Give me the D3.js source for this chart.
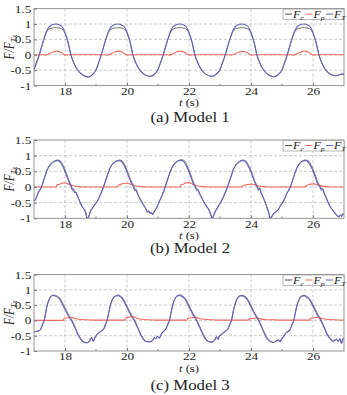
<!DOCTYPE html>
<html>
<head>
<meta charset="utf-8">
<script src="https://cdn.jsdelivr.net/npm/d3@7"></script>
<style>
  body { margin: 0; background: #fff; }
  svg { display: block; }
  text { font-family: "Liberation Serif", "Times New Roman", serif; fill: #222; }
</style>
</head>
<body>
<script>
// ---- Model 1 ----
const m1Time = [
  17.00,17.08,17.17,17.30,17.42,17.55,17.72,17.88,18.00,18.10,18.19,18.30,18.45,18.60,18.75,18.88,
  19.00,19.08,19.17,19.30,19.42,19.55,19.72,19.88,20.00,20.10,20.19,20.30,20.45,20.60,20.75,20.88,
  21.00,21.08,21.17,21.30,21.42,21.55,21.72,21.88,22.00,22.10,22.19,22.30,22.45,22.60,22.75,22.88,
  23.00,23.08,23.17,23.30,23.42,23.55,23.72,23.88,24.00,24.10,24.19,24.30,24.45,24.60,24.75,24.88,
  25.00,25.08,25.17,25.30,25.42,25.55,25.72,25.88,26.00,26.10,26.19,26.30,26.45,26.60,26.75,26.88,
  27.00];
const m1Total = [
  -0.47,-0.26,0.00,0.45,0.80,0.96,1.00,0.94,0.72,0.40,0.00,-0.30,-0.55,-0.67,-0.72,-0.65,
  -0.49,-0.27,0.00,0.45,0.80,0.96,1.00,0.94,0.73,0.41,0.00,-0.30,-0.54,-0.66,-0.70,-0.64,
  -0.48,-0.26,0.00,0.45,0.80,0.96,1.00,0.94,0.72,0.40,0.00,-0.30,-0.55,-0.66,-0.70,-0.63,
  -0.48,-0.26,0.00,0.45,0.80,0.96,1.00,0.94,0.72,0.40,0.00,-0.30,-0.55,-0.67,-0.71,-0.64,
  -0.49,-0.27,0.00,0.45,0.80,0.96,1.00,0.94,0.72,0.40,0.00,-0.30,-0.54,-0.65,-0.68,-0.64,
  -0.62];
const m1Cable = [
  -0.47,-0.26,0.00,0.44,0.76,0.86,0.88,0.85,0.70,0.40,0.00,-0.30,-0.55,-0.67,-0.72,-0.65,
  -0.49,-0.27,0.00,0.44,0.76,0.86,0.88,0.85,0.71,0.41,0.00,-0.30,-0.54,-0.66,-0.70,-0.64,
  -0.48,-0.26,0.00,0.44,0.76,0.86,0.88,0.85,0.70,0.40,0.00,-0.30,-0.55,-0.66,-0.70,-0.63,
  -0.48,-0.26,0.00,0.44,0.76,0.86,0.88,0.85,0.70,0.40,0.00,-0.30,-0.55,-0.67,-0.71,-0.64,
  -0.49,-0.27,0.00,0.44,0.76,0.86,0.88,0.85,0.70,0.40,0.00,-0.30,-0.54,-0.65,-0.68,-0.64,
  -0.62];
const m1Pull = [
  [17.00,0],[17.30,0],[17.38,-0.01],[17.48,0.03],[17.60,0.09],[17.72,0.12],[17.84,0.09],[17.95,0.02],[18.02,-0.01],[18.10,0],
  [19.30,0],[19.38,-0.01],[19.48,0.03],[19.60,0.09],[19.72,0.12],[19.84,0.09],[19.95,0.02],[20.02,-0.01],[20.10,0],
  [21.30,0],[21.38,-0.01],[21.48,0.03],[21.60,0.09],[21.72,0.12],[21.84,0.09],[21.95,0.02],[22.02,-0.01],[22.10,0],
  [23.30,0],[23.38,-0.01],[23.48,0.03],[23.60,0.08],[23.72,0.11],[23.84,0.09],[23.95,0.02],[24.02,-0.01],[24.10,0],
  [25.30,0],[25.38,-0.01],[25.48,0.03],[25.60,0.09],[25.72,0.12],[25.84,0.09],[25.95,0.02],[26.02,-0.01],[26.10,0],
  [27.00,0]];

// ---- Model 2 ----
const m2Time = [
  17.00,17.05,17.12,17.24,17.35,17.45,17.57,17.68,17.76,17.84,17.94,18.05,18.15,18.20,18.24,18.27,18.31,18.35,18.40,18.47,18.55,18.62,18.66,18.70,18.73,18.77,18.82,18.88,18.95,
  19.03,19.12,19.24,19.35,19.45,19.57,19.68,19.75,19.84,19.94,20.05,20.16,20.21,20.25,20.29,20.34,20.42,20.52,20.60,20.66,20.70,20.74,20.78,20.83,20.87,20.92,20.97,
  21.05,21.13,21.23,21.34,21.45,21.57,21.67,21.75,21.84,21.94,22.05,22.15,22.20,22.25,22.29,22.34,22.42,22.50,22.58,22.64,22.70,22.75,22.79,22.85,22.92,22.98,
  23.06,23.14,23.24,23.35,23.45,23.57,23.67,23.74,23.83,23.93,24.05,24.14,24.20,24.24,24.28,24.32,24.38,24.46,24.53,24.58,24.62,24.66,24.72,24.80,24.88,24.96,
  25.05,25.15,25.27,25.37,25.47,25.58,25.68,25.76,25.85,25.95,26.06,26.16,26.22,26.27,26.31,26.36,26.44,26.53,26.62,26.70,26.78,26.84,26.88,26.92,26.96,27.00];
const m2Total = [
  -0.45,-0.40,-0.22,0.00,0.33,0.60,0.76,0.83,0.84,0.80,0.63,0.36,0.10,0.00,-0.10,-0.08,-0.18,-0.17,-0.28,-0.45,-0.62,-0.72,-0.80,-0.96,-1.00,-0.94,-0.78,-0.68,-0.58,
  -0.48,-0.30,0.00,0.32,0.60,0.77,0.83,0.84,0.79,0.62,0.35,0.08,0.00,-0.12,-0.10,-0.22,-0.38,-0.55,-0.68,-0.80,-0.76,-0.84,-0.82,-0.88,-0.80,-0.72,-0.62,
  -0.45,-0.28,0.00,0.33,0.62,0.78,0.84,0.85,0.80,0.62,0.35,0.08,0.00,-0.12,-0.10,-0.22,-0.36,-0.52,-0.64,-0.72,-0.88,-1.00,-0.92,-0.78,-0.66,-0.56,
  -0.42,-0.25,0.00,0.32,0.60,0.77,0.83,0.84,0.79,0.62,0.34,0.10,0.00,-0.10,-0.06,-0.18,-0.30,-0.50,-0.70,-0.85,-1.00,-0.96,-0.86,-0.80,-0.72,-0.58,
  -0.45,-0.22,0.00,0.30,0.58,0.76,0.83,0.84,0.79,0.62,0.35,0.08,0.00,-0.10,-0.08,-0.20,-0.38,-0.58,-0.72,-0.82,-0.92,-0.95,-0.90,-0.94,-0.86,-0.88];
const m2Cable = [
  -0.45,-0.40,-0.22,0.00,0.33,0.60,0.76,0.84,0.86,0.84,0.69,0.42,0.16,0.06,-0.05,-0.05,-0.15,-0.16,-0.28,-0.45,-0.62,-0.72,-0.80,-0.96,-1.00,-0.94,-0.78,-0.68,-0.58,
  -0.48,-0.30,0.00,0.32,0.60,0.77,0.84,0.86,0.84,0.68,0.41,0.14,0.05,-0.07,-0.07,-0.20,-0.38,-0.55,-0.68,-0.80,-0.76,-0.84,-0.82,-0.88,-0.80,-0.72,-0.62,
  -0.45,-0.28,0.00,0.33,0.62,0.78,0.85,0.87,0.85,0.68,0.41,0.14,0.05,-0.07,-0.07,-0.20,-0.36,-0.52,-0.64,-0.72,-0.88,-1.00,-0.92,-0.78,-0.66,-0.56,
  -0.42,-0.25,0.00,0.32,0.60,0.77,0.84,0.86,0.84,0.68,0.40,0.15,0.05,-0.05,-0.04,-0.16,-0.30,-0.50,-0.70,-0.85,-1.00,-0.96,-0.86,-0.80,-0.72,-0.58,
  -0.45,-0.22,0.00,0.30,0.58,0.76,0.84,0.86,0.84,0.68,0.41,0.14,0.05,-0.05,-0.05,-0.18,-0.38,-0.58,-0.72,-0.82,-0.92,-0.95,-0.90,-0.94,-0.86,-0.88];
const m2Pull = [
  [17.00,0],[17.72,0],[17.74,0.07],[17.82,0.08],[17.88,0.12],[18.00,0.13],[18.08,0.10],[18.18,0.06],[18.30,0.03],[18.45,0.01],[18.60,0],
  [19.70,0],[19.72,0.06],[19.80,0.08],[19.86,0.11],[19.98,0.12],[20.08,0.10],[20.18,0.06],[20.30,0.03],[20.45,0.01],[20.60,0],
  [21.72,0],[21.74,0.07],[21.82,0.09],[21.88,0.13],[22.00,0.14],[22.08,0.11],[22.18,0.06],[22.30,0.03],[22.45,0.01],[22.60,0],
  [23.72,0],[23.74,0.05],[23.82,0.06],[23.88,0.08],[24.00,0.09],[24.08,0.08],[24.18,0.05],[24.30,0.02],[24.45,0.01],[24.60,0],
  [25.76,0],[25.78,0.05],[25.86,0.07],[25.92,0.09],[26.04,0.10],[26.12,0.08],[26.22,0.05],[26.34,0.02],[26.48,0.01],[26.62,0],
  [27.00,0]];

// ---- Model 3 ----
const m3Time = [
  17.00,17.08,17.16,17.22,17.28,17.33,17.39,17.45,17.52,17.60,17.68,17.76,17.84,17.92,18.01,18.10,18.21,18.31,18.41,18.51,18.61,18.71,18.79,18.86,18.91,18.96,
  19.02,19.10,19.18,19.25,19.31,19.36,19.42,19.48,19.55,19.63,19.71,19.79,19.87,19.95,20.04,20.13,20.23,20.33,20.43,20.53,20.63,20.73,20.82,20.88,20.93,20.98,
  21.04,21.12,21.20,21.26,21.32,21.37,21.43,21.49,21.56,21.64,21.72,21.80,21.88,21.96,22.05,22.14,22.24,22.34,22.44,22.54,22.64,22.74,22.83,22.89,22.94,22.98,
  23.03,23.11,23.19,23.26,23.32,23.37,23.43,23.49,23.56,23.64,23.72,23.80,23.88,23.96,24.05,24.14,24.24,24.34,24.44,24.54,24.64,24.74,24.83,24.89,24.94,24.98,
  25.04,25.12,25.20,25.27,25.33,25.38,25.44,25.50,25.57,25.65,25.73,25.81,25.89,25.97,26.06,26.15,26.25,26.35,26.45,26.55,26.65,26.75,26.82,26.87,26.92,26.96,27.00];
const m3Total = [
  -0.38,-0.36,-0.34,-0.28,-0.12,0.00,0.32,0.58,0.74,0.82,0.80,0.76,0.68,0.52,0.34,0.16,0.00,-0.22,-0.45,-0.62,-0.71,-0.73,-0.68,-0.56,-0.68,-0.58,
  -0.48,-0.40,-0.34,-0.28,-0.12,0.00,0.30,0.55,0.72,0.80,0.81,0.77,0.68,0.52,0.34,0.16,0.00,-0.22,-0.45,-0.62,-0.70,-0.70,-0.66,-0.56,-0.60,-0.52,
  -0.58,-0.42,-0.34,-0.26,-0.12,0.00,0.30,0.56,0.73,0.81,0.81,0.76,0.68,0.52,0.34,0.16,0.00,-0.22,-0.45,-0.62,-0.70,-0.71,-0.64,-0.54,-0.62,-0.50,
  -0.48,-0.40,-0.34,-0.27,-0.12,0.00,0.30,0.55,0.72,0.80,0.80,0.76,0.68,0.52,0.34,0.16,0.00,-0.22,-0.45,-0.62,-0.70,-0.72,-0.66,-0.64,-0.70,-0.62,
  -0.54,-0.42,-0.36,-0.28,-0.12,0.00,0.30,0.55,0.72,0.80,0.80,0.75,0.67,0.52,0.34,0.16,0.00,-0.22,-0.45,-0.60,-0.68,-0.62,-0.68,-0.60,-0.75,-0.62,-0.56];
const m3Cable = [
  -0.38,-0.36,-0.34,-0.28,-0.12,0.00,0.32,0.58,0.74,0.82,0.82,0.79,0.72,0.57,0.39,0.21,0.04,-0.18,-0.42,-0.60,-0.70,-0.73,-0.68,-0.56,-0.68,-0.58,
  -0.48,-0.40,-0.34,-0.28,-0.12,0.00,0.30,0.55,0.72,0.80,0.83,0.80,0.72,0.57,0.39,0.21,0.04,-0.18,-0.42,-0.60,-0.69,-0.70,-0.66,-0.56,-0.60,-0.52,
  -0.58,-0.42,-0.34,-0.26,-0.12,0.00,0.30,0.56,0.73,0.81,0.83,0.79,0.72,0.57,0.39,0.21,0.04,-0.18,-0.42,-0.60,-0.69,-0.71,-0.64,-0.54,-0.62,-0.50,
  -0.48,-0.40,-0.34,-0.27,-0.12,0.00,0.30,0.55,0.72,0.80,0.82,0.79,0.72,0.57,0.39,0.21,0.04,-0.18,-0.42,-0.60,-0.69,-0.72,-0.66,-0.64,-0.70,-0.62,
  -0.54,-0.42,-0.36,-0.28,-0.12,0.00,0.30,0.55,0.72,0.80,0.82,0.78,0.71,0.57,0.39,0.21,0.04,-0.18,-0.42,-0.58,-0.67,-0.62,-0.68,-0.60,-0.75,-0.62,-0.56];
const m3Pull = [
  [17.00,0],[17.94,0],[17.97,0.06],[18.03,0.08],[18.13,0.09],[18.23,0.10],[18.31,0.06],[18.46,0.04],[18.70,0.02],[18.95,0.01],
  [19.93,0.01],[19.96,0.08],[20.02,0.10],[20.12,0.11],[20.22,0.12],[20.32,0.07],[20.46,0.04],[20.70,0.02],[20.95,0.01],
  [21.93,0.01],[21.96,0.06],[22.02,0.08],[22.12,0.09],[22.24,0.10],[22.32,0.06],[22.46,0.04],[22.70,0.02],[22.95,0.01],
  [23.91,0.01],[23.94,0.04],[24.00,0.06],[24.10,0.07],[24.22,0.07],[24.30,0.05],[24.44,0.03],[24.70,0.02],[24.95,0.01],
  [25.89,0.01],[25.92,0.06],[25.98,0.08],[26.08,0.09],[26.20,0.10],[26.28,0.06],[26.42,0.04],[26.70,0.02],[27.00,0.01]];

const xTicks = [18, 20, 22, 24, 26];
const xMinor = [19, 21, 23, 25];
const yTicks = [-1, -0.5, 0, 0.5, 1, 1.5];
const yGrid = [-0.5, 0, 0.5, 1];
const captions = ['(a) Model 1', '(b) Model 2', '(c) Model 3'];
const legendSubs = ['c', 'p', 'T'];

const COL = { cable: '#505050', pull: '#ee6a5e', total: '#6262bd' };
const SERIF = '"Liberation Serif", "Times New Roman", serif';
const SX = 1.2; // the source figure is stretched sideways

const svg = d3.select('body').append('svg').attr('width', 347).attr('height', 395);

const panels = [
  { top: 8.6,   h: 77,   time: m1Time, total: m1Total, cable: m1Cable, pull: m1Pull, lab: 105.5, cap: 121.5 },
  { top: 140,   h: 78.3, time: m2Time, total: m2Total, cable: m2Cable, pull: m2Pull, lab: 238.5, cap: 253 },
  { top: 274.5, h: 76.5, time: m3Time, total: m3Total, cable: m3Cable, pull: m3Pull, lab: 372,   cap: 389.5 }
];

const L = 34, R = 344;

panels.forEach((p, i) => {
  const x = d3.scaleLinear().domain([17, 27]).range([L, R]);
  const y = d3.scaleLinear().domain([-1, 1.5]).range([p.top + p.h, p.top]);
  const g = svg.append('g');

  g.append('clipPath').attr('id', 'clip' + i)
    .append('rect').attr('x', L).attr('y', p.top).attr('width', R - L).attr('height', p.h);

  // grid
  g.selectAll('.vg').data(xTicks).join('line')
    .attr('x1', d => x(d)).attr('x2', d => x(d)).attr('y1', p.top).attr('y2', p.top + p.h)
    .attr('stroke', '#b4b4b4').attr('stroke-width', 0.7).attr('stroke-dasharray', '3,2');
  g.selectAll('.hg').data(yGrid).join('line')
    .attr('x1', L).attr('x2', R).attr('y1', d => y(d)).attr('y2', d => y(d))
    .attr('stroke', '#b4b4b4').attr('stroke-width', 0.7).attr('stroke-dasharray', '3,2');

  // series
  const series = g.append('g').attr('clip-path', `url(#clip${i})`);
  const line = d3.line().x(d => x(d[0])).y(d => y(d[1])).curve(d3.curveMonotoneX);
  const cablePts = p.time.map((t, k) => [t, p.cable[k]]);
  const totalPts = p.time.map((t, k) => [t, p.total[k]]);
  series.append('path').attr('d', line(cablePts)).attr('fill', 'none')
    .attr('stroke', COL.cable).attr('stroke-width', 0.8);
  series.append('path').attr('d', line(p.pull)).attr('fill', 'none')
    .attr('stroke', COL.pull).attr('stroke-width', 1.1);
  series.append('path').attr('d', line(totalPts)).attr('fill', 'none')
    .attr('stroke', COL.total).attr('stroke-width', 1.1);

  // frame
  g.append('rect').attr('x', L).attr('y', p.top).attr('width', R - L).attr('height', p.h)
    .attr('fill', 'none').attr('stroke', '#8a8a8a').attr('stroke-width', 0.9);

  // axes
  const ax = g.append('g').attr('transform', `translate(0,${p.top + p.h})`)
    .call(d3.axisBottom(x).tickValues(xTicks).tickSize(-3).tickPadding(1.5));
  ax.attr('font-family', SERIF).attr('font-size', 11);
  ax.select('.domain').remove();
  ax.selectAll('line').attr('stroke', '#777');
  ax.selectAll('text').attr('fill', '#222').attr('transform', `scale(${SX},1)`);
  g.selectAll('.mn').data(xMinor).join('line')
    .attr('x1', d => x(d)).attr('x2', d => x(d))
    .attr('y1', p.top + p.h).attr('y2', p.top + p.h - 1.8).attr('stroke', '#777');

  const ay = g.append('g').attr('transform', `translate(${L},0)`)
    .call(d3.axisLeft(y).tickValues(yTicks).tickSize(-3).tickPadding(2.3).tickFormat(d => String(d)));
  ay.attr('font-family', SERIF).attr('font-size', 11);
  ay.select('.domain').remove();
  ay.selectAll('line').attr('stroke', '#777');
  ay.selectAll('text').attr('fill', '#222').attr('transform', `scale(${SX},1)`);

  // y label
  const yl = g.append('text')
    .attr('transform', `translate(14,${p.top + p.h / 2}) rotate(-90) scale(1,${SX})`)
    .attr('text-anchor', 'middle').attr('font-size', 11.5).attr('font-style', 'italic');
  yl.append('tspan').text('F/F');
  yl.append('tspan').attr('font-size', 7.5).attr('dy', 2.5).text('Tx');

  // x label
  const xl = g.append('text')
    .attr('transform', `translate(${(L + R) / 2},${p.lab}) scale(${SX},1)`)
    .attr('text-anchor', 'middle').attr('font-size', 10.5);
  xl.append('tspan').attr('font-style', 'italic').text('t');
  xl.append('tspan').text(' (s)');

  // caption
  g.append('text')
    .attr('transform', `translate(${(L + R) / 2 + 1},${p.cap}) scale(${SX},1)`)
    .attr('text-anchor', 'middle').attr('font-size', 14).text(captions[i]);

  // legend
  const lg = g.append('g').attr('transform', `translate(283,${p.top})`);
  lg.append('rect').attr('x', 0).attr('y', 0.5).attr('width', R - 283).attr('height', 10.5)
    .attr('fill', '#fff').attr('stroke', '#999').attr('stroke-width', 0.7);
  [COL.cable, COL.pull, COL.total].forEach((c, k) => {
    const ox = 2 + k * 20.5;
    lg.append('line').attr('x1', ox).attr('x2', ox + 7).attr('y1', 5.5).attr('y2', 5.5)
      .attr('stroke', c).attr('stroke-width', 1);
    const t = lg.append('text').attr('transform', `translate(${ox + 8},9) scale(${SX},1)`)
      .attr('font-size', 10).attr('font-style', 'italic');
    t.append('tspan').text('F');
    t.append('tspan').attr('font-size', 6.5).attr('dy', 2).text(legendSubs[k]);
  });
});
</script>
</body>
</html>
